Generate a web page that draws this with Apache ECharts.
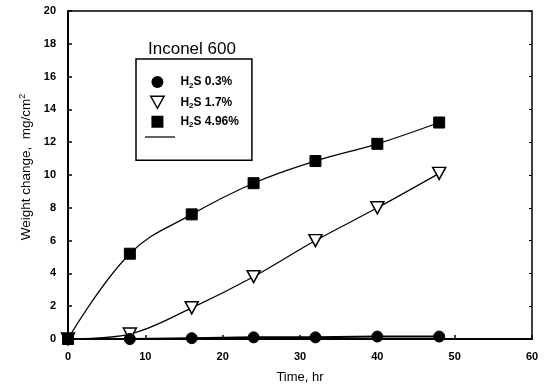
<!DOCTYPE html>
<html>
<head>
<meta charset="utf-8">
<script src="https://cdn.jsdelivr.net/npm/echarts@6/dist/echarts.min.js"></script>
<style>html,body{margin:0;padding:0;background:#fff}#c{width:548px;height:389px}</style>
</head>
<body>
<div id="c"></div>
<script>
const timeHr = [0, 8, 16, 24, 32, 40, 48];
const h2s03 = [0, 0, 0.05, 0.1, 0.1, 0.15, 0.15];
const h2s17 = [0, 0.3, 1.9, 3.8, 6.0, 8.0, 10.1];
const h2s496 = [0, 5.2, 7.6, 9.5, 10.85, 11.9, 13.2];
const seriesNames = ['H2S 0.3%', 'H2S 1.7%', 'H2S 4.96%'];
const xTicks = [0, 10, 20, 30, 40, 50, 60];
const yTicks = [0, 2, 4, 6, 8, 10, 12, 14, 16, 18, 20];

const FONT = '"Liberation Sans", Arial, sans-serif';
const triPath = 'path://M0,0 L10,0 L5,9 Z';
const sqPath = 'path://M0,0 L10,0 L10,10 L0,10 Z';
const pair = (xs, ys) => xs.map((x, i) => [x, ys[i]]);

const chart = echarts.init(document.getElementById('c'), null, {renderer: 'canvas'});
const axisBase = {
  type: 'value', min: 0,
  splitLine: {show: false},
  axisLine: {show: true, onZero: false, lineStyle: {color: '#000', width: 2}},
  axisTick: {show: true, inside: true, length: 4, lineStyle: {color: '#000', width: 1.5}},
  axisLabel: {color: '#000', fontFamily: FONT, fontWeight: 'bold', fontSize: 11, margin: 12}
};
const option = {
  animation: false,
  backgroundColor: '#fff',
  grid: {left: 68, right: 16, top: 11, bottom: 50, containLabel: false},
  title: {
    text: 'Inconel 600', left: 143, top: 36,
    textStyle: {fontFamily: FONT, fontWeight: 'normal', fontSize: 17, color: '#000'}
  },
  legend: {
    orient: 'vertical', left: 136, top: 59,
    padding: [17, 13, 31, 14],
    borderColor: '#000', borderWidth: 1.5,
    itemWidth: 26, itemHeight: 12, itemGap: 6,
    symbolKeepAspect: true,
    data: [
      {name: seriesNames[0], icon: 'circle'},
      {name: seriesNames[1], icon: triPath, itemStyle: {color: '#fff', borderColor: '#000', borderWidth: 1.5}},
      {name: seriesNames[2], icon: sqPath}
    ],
    formatter: function (n) {
      const rest = n.slice(3);
      return '{b|H}{s|2}{b|S' + rest + '}';
    },
    textStyle: {
      color: '#000', fontFamily: FONT, fontSize: 12, fontWeight: 'bold', padding: [0, 0, 0, 5],
      rich: {
        b: {fontFamily: FONT, fontSize: 12, fontWeight: 'bold', color: '#000'},
        s: {fontFamily: FONT, fontSize: 8, fontWeight: 'bold', color: '#000', verticalAlign: 'bottom', padding: [7, 0, 0, 0]}
      }
    }
  },
  xAxis: [
    Object.assign({}, axisBase, {
      max: 60, interval: 10, position: 'bottom',
      name: 'Time, hr', nameLocation: 'middle', nameGap: 32,
      nameTextStyle: {fontFamily: FONT, fontSize: 13, color: '#000'}
    }),
    Object.assign({}, axisBase, {
      max: 60, interval: 10, position: 'top',
      axisLine: {show: true, onZero: false, lineStyle: {color: '#000', width: 1.5}},
      axisTick: {show: false}, axisLabel: {show: false}
    })
  ],
  yAxis: [
    Object.assign({}, axisBase, {
      max: 20, interval: 2, position: 'left',
      name: 'Weight change,  mg/cm{sup|2}', nameLocation: 'middle', nameGap: 33,
      nameTextStyle: {fontFamily: FONT, fontSize: 13.5, color: '#000', padding: [0, 0, 0, 16],
        rich: {sup: {fontFamily: FONT, fontSize: 9, color: '#000', verticalAlign: 'top', padding: [0, 0, 6, 0]}}}
    }),
    Object.assign({}, axisBase, {
      max: 20, interval: 2, position: 'right',
      axisLine: {show: true, onZero: false, lineStyle: {color: '#000', width: 1.5}},
      axisTick: {show: true, inside: true, length: 3, lineStyle: {color: '#000', width: 1}},
      axisLabel: {show: false}
    })
  ],
  series: [
    {
      name: seriesNames[0], type: 'line', data: pair(timeHr, h2s03), z: 5,
      symbol: 'circle', symbolSize: 11, smooth: false,
      lineStyle: {color: '#000', width: 2}, itemStyle: {color: '#000', borderColor: '#000'}
    },
    {
      name: seriesNames[1], type: 'line', data: pair(timeHr, h2s17), z: 4,
      symbol: triPath, symbolSize: [13, 12], smooth: 0.35,
      lineStyle: {color: '#000', width: 1.2}, itemStyle: {color: '#fff', borderColor: '#000', borderWidth: 1.5}
    },
    {
      name: seriesNames[2], type: 'line', data: pair(timeHr, h2s496), z: 4,
      symbol: 'rect', symbolSize: 11, smooth: 0.4,
      lineStyle: {color: '#000', width: 1.2}, itemStyle: {color: '#000', borderColor: '#000'}
    }
  ],
  graphic: [
    {type: 'line', shape: {x1: 145, y1: 137, x2: 175, y2: 137}, style: {stroke: '#000', lineWidth: 1.2}, z: 100}
  ]
};
chart.setOption(option);
</script>
</body>
</html>
